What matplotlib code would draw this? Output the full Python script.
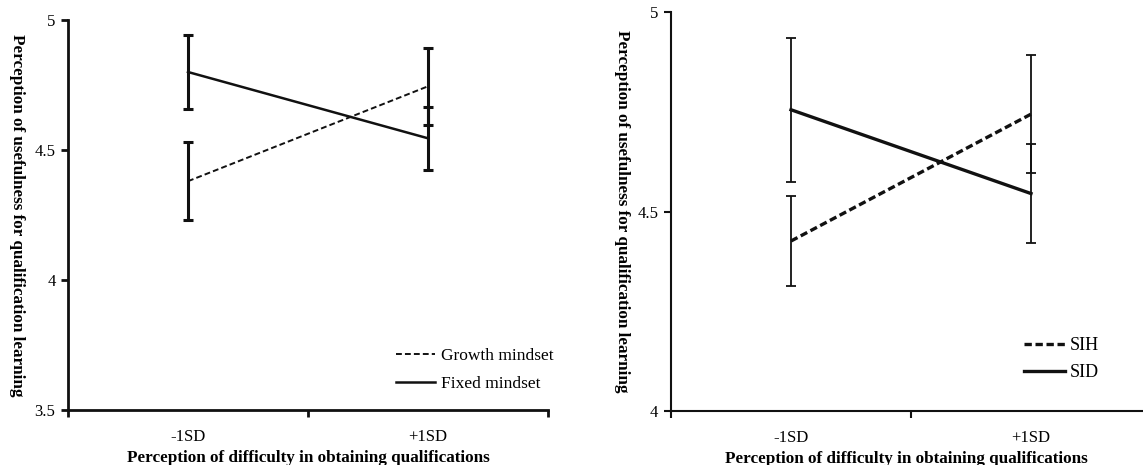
import numpy as np
import matplotlib.pyplot as plt
from matplotlib.ticker import FixedLocator, NullFormatter

plt.rcParams['font.family'] = ['Liberation Serif', 'DejaVu Serif']

levels = ['-1SD', '+1SD']

# left panel: mindset
growth_mean = [4.38, 4.745]
growth_err = [0.15, 0.148]
fixed_mean = [4.80, 4.545]
fixed_err = [0.142, 0.122]

# right panel: SIH / SID
sih_mean = [4.426, 4.744]
sih_err = [0.112, 0.148]
sid_mean = [4.755, 4.545]
sid_err = [0.18, 0.123]

xlabel = 'Perception of difficulty in obtaining qualifications'
ylabel = 'Perception of usefulness for qualification learning'

fig = plt.figure(figsize=(11.43, 4.65), dpi=100)
ax1 = fig.add_axes([68 / 1143, 55 / 465, 480 / 1143, 390 / 465])
ax2 = fig.add_axes([671 / 1143, 54 / 465, 480 / 1143, 399 / 465])

x = np.arange(1, len(levels) + 1)
ink = '#111111'


def style_axis(ax, ylim, yticks, ylabs, elw, ylab_x):
    ax.set_xlim(0.5, 2.5)
    ax.set_ylim(*ylim)
    for s in ['top', 'right']:
        ax.spines[s].set_visible(False)
    for s in ['left', 'bottom']:
        ax.spines[s].set_linewidth(elw)
        ax.spines[s].set_color(ink)
    ax.set_xticks(x)
    ax.set_xticklabels(levels, fontsize=12)
    ax.tick_params(axis='x', which='major', length=0, pad=14)
    ax.xaxis.set_minor_locator(FixedLocator([0.5, 1.5, 2.5]))
    ax.xaxis.set_minor_formatter(NullFormatter())
    ax.tick_params(axis='x', which='minor', length=5, width=elw, direction='out', color=ink)
    ax.set_yticks(yticks)
    ax.set_yticklabels(ylabs, fontsize=12)
    ax.tick_params(axis='y', length=5, width=elw, direction='out', color=ink, pad=4)
    ax.set_xlabel(xlabel, fontsize=12.3, fontweight='bold', labelpad=3)
    ax.set_ylabel(ylabel, fontsize=12.3, fontweight='bold', rotation=-90, va='center')
    ax.yaxis.set_label_coords(ylab_x, 0.5)


# left
ax1.errorbar(x, growth_mean, yerr=growth_err, fmt='none', ecolor=ink, elinewidth=2.2, capsize=3.5, capthick=2.2)
ax1.errorbar(x, fixed_mean, yerr=fixed_err, fmt='none', ecolor=ink, elinewidth=2.2, capsize=3.5, capthick=2.2)
ax1.plot(x, growth_mean, color=ink, lw=1.4, dashes=(3, 1.6), label='Growth mindset')
ax1.plot(x, fixed_mean, color=ink, lw=1.8, label='Fixed mindset')
style_axis(ax1, (3.5, 5.0), [3.5, 4, 4.5, 5], ['3.5', '4', '4.5', '5'], 2.0, -0.106)
ax1.legend(loc='lower left', bbox_to_anchor=(0.666, 0.023), frameon=False, fontsize=12.5,
           handlelength=2.25, handletextpad=0.3, labelspacing=0.72, borderpad=0)

# right
ax2.errorbar(x, sih_mean, yerr=sih_err, fmt='none', ecolor=ink, elinewidth=1.3, capsize=3.5, capthick=1.3)
ax2.errorbar(x, sid_mean, yerr=sid_err, fmt='none', ecolor=ink, elinewidth=1.3, capsize=3.5, capthick=1.3)
ax2.plot(x, sih_mean, color=ink, lw=2.4, dashes=(2.2, 1.1), label='SIH')
ax2.plot(x, sid_mean, color=ink, lw=2.4, label='SID')
style_axis(ax2, (4.0, 5.0), [4, 4.5, 5], ['4', '4.5', '5'], 1.5, -0.102)
ax2.xaxis.label.set_position((471 / 960, 0))
ax2.legend(loc='lower left', bbox_to_anchor=(0.717, 0.053), frameon=False, fontsize=13,
           handlelength=2.27, handletextpad=0.28, labelspacing=0.55, borderpad=0)

fig.savefig('out.png', dpi=100)
